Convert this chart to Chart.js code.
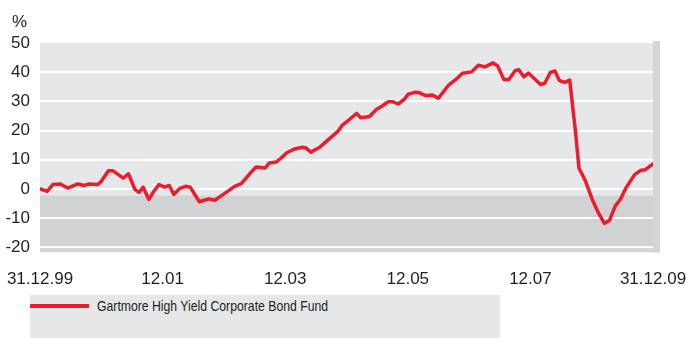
<!DOCTYPE html>
<html>
<head>
<meta charset="utf-8">
<title>Gartmore High Yield Corporate Bond Fund</title>
<script src="https://cdn.jsdelivr.net/npm/chart.js@4/dist/chart.umd.min.js"></script>
<style>
    body {
        margin: 0;
        background: #fff;
        font-family: "Liberation Sans", Arial, Helvetica, sans-serif;
    }
    .wrap {
        position: relative;
        width: 689px;
        height: 338px;
    }
    .unit {
        position: absolute;
        left: 12px;
        top: 12px;
        font-size: 17px;
        color: #231f20;
    }
    .legend {
        position: absolute;
        left: 30px;
        top: 295px;
        width: 470px;
        height: 43px;
        background: #e6e7e8;
    }
    .legend .swatch {
        position: absolute;
        left: 0;
        top: 9px;
        width: 59px;
        height: 4px;
        background: #ec1c2e;
    }
    .legend .label {
        position: absolute;
        left: 67px;
        top: 2px;
        font-size: 15px;
        line-height: 18px;
        color: #231f20;
        white-space: nowrap;
        transform: scaleX(0.815);
        transform-origin: left center;
    }
</style>
</head>
<body>
<div class="wrap">
    <canvas id="fundChart" width="689" height="338"></canvas>
    <div class="unit">%</div>
    <div class="legend">
        <span class="swatch"></span>
        <span class="label">Gartmore High Yield Corporate Bond Fund</span>
    </div>
</div>
<script>
// Months elapsed since 31.12.99 and cumulative performance (%) at each point
const months = [
    0, 1.4, 2.5, 4.0, 5.4, 7.4, 8.7, 9.6, 11.3, 12.0,
    13.4, 14.3, 16.3, 17.3, 18.6, 19.4, 20.2, 21.3, 22.3, 23.3,
    24.4, 25.3, 26.2, 27.3, 28.5, 29.4, 30.3, 31.2, 33.0, 34.2,
    36.1, 38.1, 39.4, 41.0, 42.3, 44.1, 44.9, 46.2, 47.2, 48.3,
    49.8, 51.4, 52.1, 53.0, 54.7, 56.0, 58.3, 59.2, 60.5, 62.0,
    62.8, 64.5, 65.9, 67.0, 68.2, 69.0, 70.1, 71.3, 72.1, 73.3,
    74.2, 75.5, 76.8, 78.0, 80.0, 81.4, 82.7, 84.5, 85.8, 87.1,
    88.7, 89.6, 90.8, 91.8, 93.0, 93.7, 94.7, 95.6, 98.0, 98.8,
    99.9, 100.8, 101.7, 102.7, 103.7, 104.8, 105.5, 106.8, 108.1, 109.4,
    110.5, 111.5, 112.6, 113.6, 114.7, 116.4, 117.5, 118.5, 120.0
];
const fundReturns = [
    0.0, -0.8, 1.5, 1.7, 0.3, 1.7, 1.2, 1.7, 1.5, 2.6,
    6.2, 6.2, 3.7, 5.2, -0.2, -1.2, 0.6, -3.6, -0.8, 1.5,
    0.6, 1.2, -1.9, 0.1, 0.9, 0.6, -1.9, -4.4, -3.4, -3.9,
    -1.6, 0.9, 1.8, 5.1, 7.5, 7.2, 8.9, 9.2, 10.6, 12.4,
    13.7, 14.3, 14.0, 12.6, 14.2, 16.2, 19.7, 21.9, 23.7, 25.9,
    24.4, 24.8, 27.3, 28.4, 29.9, 29.9, 29.1, 30.7, 32.5, 33.1,
    33.0, 32.0, 32.2, 31.1, 35.6, 37.5, 39.6, 40.1, 42.4, 41.8,
    43.2, 42.1, 37.5, 37.5, 40.5, 40.9, 38.4, 39.7, 35.8, 36.2,
    39.9, 40.4, 37.1, 36.5, 37.3, 20.0, 7.2, 2.6, -3.6, -8.5,
    -11.8, -10.7, -5.9, -3.6, 0.3, 4.9, 6.3, 6.6, 8.6
];

// X axis labels and where they sit
const tickMonths = [0, 24, 48, 72, 96, 120];
const tickLabels = ['31.12.99', '12.01', '12.03', '12.05', '12.07', '31.12.09'];

const LIGHT_GREY = '#e6e7e8';
const DARK_GREY = '#d1d2d4';
const SHADOW_GREY = '#d5d6d8';
const FUND_RED = '#ec1c2e';
const TEXT = '#231f20';

/**
 * Paints the panel behind the grid: light upper part, darker lower band
 * and a thin shadow along the right and bottom edges.
 */
const panelBackground = {
    id: 'panelBackground',
    beforeDraw(chart) {
        const { ctx, chartArea: a, scales } = chart;
        const bandTop = scales.y.getPixelForValue(-2.2);
        ctx.save();
        ctx.fillStyle = SHADOW_GREY;
        ctx.fillRect(a.right, a.top - 2, 7, a.bottom - a.top + 7);
        ctx.fillRect(a.left, a.bottom, a.right - a.left + 7, 5);
        ctx.fillStyle = LIGHT_GREY;
        ctx.fillRect(a.left, a.top, a.right - a.left, bandTop - a.top);
        ctx.fillStyle = DARK_GREY;
        ctx.fillRect(a.left, bandTop, a.right - a.left, a.bottom - bandTop);
        ctx.restore();
    }
};

function initializeChart() {
    const canvas = document.getElementById('fundChart');

    new Chart(canvas, {
        type: 'line',
        data: {
            datasets: [{
                label: 'Gartmore High Yield Corporate Bond Fund',
                data: months.map((m, i) => ({ x: m, y: fundReturns[i] })),
                borderColor: FUND_RED,
                borderWidth: 3.5,
                borderJoinStyle: 'round',
                borderCapStyle: 'round',
                pointRadius: 0,
                tension: 0,
                fill: false
            }]
        },
        options: {
            responsive: false,
            animation: false,
            devicePixelRatio: 1,
            layout: {
                padding: { left: 0, right: 36, top: 43, bottom: 0 }
            },
            plugins: {
                legend: { display: false },
                tooltip: { enabled: false }
            },
            scales: {
                x: {
                    type: 'linear',
                    min: 0,
                    max: 120,
                    grid: { display: false },
                    border: { display: false },
                    afterBuildTicks: (scale) => {
                        scale.ticks = tickMonths.map(v => ({ value: v }));
                    },
                    afterFit: (scale) => {
                        // end labels are allowed to hang past the plot edges
                        scale.height = 90.7;
                        scale.paddingLeft = 0;
                        scale.paddingRight = 0;
                    },
                    ticks: {
                        autoSkip: false,
                        maxRotation: 0,
                        padding: 14,
                        color: TEXT,
                        font: { family: '"Liberation Sans", Arial, sans-serif', size: 17 },
                        callback: (value) => tickLabels[tickMonths.indexOf(value)]
                    }
                },
                y: {
                    min: -20,
                    max: 50,
                    border: { display: false },
                    grid: {
                        drawTicks: false,
                        lineWidth: 2,
                        color: (ctx) => ctx.tick && ctx.tick.value === 50 ? 'rgba(0,0,0,0)' : '#ffffff'
                    },
                    afterFit: (scale) => {
                        scale.width = 40;
                        scale.paddingTop = 0;
                        scale.paddingBottom = 0;
                    },
                    ticks: {
                        stepSize: 10,
                        padding: 10,
                        color: TEXT,
                        font: { family: '"Liberation Sans", Arial, sans-serif', size: 17 }
                    }
                }
            }
        },
        plugins: [panelBackground]
    });
}

document.addEventListener('DOMContentLoaded', initializeChart);
</script>
</body>
</html>
